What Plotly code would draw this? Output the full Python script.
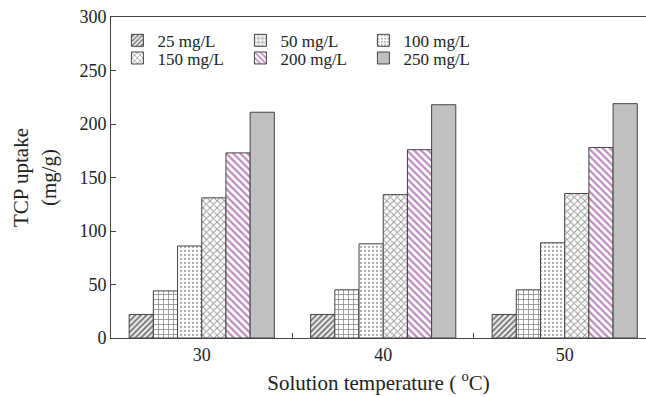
import plotly.graph_objects as go

temps = ["30", "40", "50"]
series_names = ["25 mg/L", "50 mg/L", "100 mg/L", "150 mg/L", "200 mg/L", "250 mg/L"]
v25 = [22, 22, 22]
v50 = [44, 45, 45]
v100 = [86, 88, 89]
v150 = [131, 134, 135]
v200 = [173, 176, 178]
v250 = [211, 218, 219]
values = [v25, v50, v100, v150, v200, v250]

shapes = ["/", "+", ".", "x", "\\", ""]
fg = ["#000000", "#111111", "#555555", "#333333", "#7a1a7a", "#222222"]
bg = ["white", "white", "white", "white", "white", "#c0c0c0"]
sizes = [4, 5, 4, 5, 5, 8]
solid = [0.55, 0.3, 0.25, 0.35, 0.45, 0.3]
legends = ["legend", "legend", "legend", "legend2", "legend2", "legend2"]

FONT = "Times New Roman, Liberation Serif, Tinos, serif"

fig = go.Figure()
for i, name in enumerate(series_names):
    marker = dict(color=bg[i], line=dict(color="#444444", width=1))
    if shapes[i]:
        marker["pattern"] = dict(shape=shapes[i], fgcolor=fg[i], bgcolor=bg[i],
                                 size=sizes[i], solidity=solid[i], fillmode="overlay")
    fig.add_trace(go.Bar(x=temps, y=values[i], name=name, marker=marker,
                         legend=legends[i]))

leg_common = dict(orientation="h", xanchor="left", yanchor="top",
                  entrywidth=78, entrywidthmode="pixels", traceorder="normal",
                  font=dict(size=17), bgcolor="rgba(0,0,0,0)", itemwidth=30,
                  tracegroupgap=0)

fig.update_layout(
    width=646, height=397,
    margin=dict(l=111, r=0, t=17, b=59),
    plot_bgcolor="white", paper_bgcolor="white",
    barmode="group", bargap=0.2, bargroupgap=0,
    font=dict(family=FONT, size=17, color="#222222"),
    legend=dict(x=0.012, y=0.982, **leg_common),
    legend2=dict(x=0.012, y=0.927, **leg_common),
    xaxis=dict(range=[-0.5, 2.448], showline=True, linecolor="#444444", linewidth=1,
               mirror=True, ticks="inside", tickson="boundaries", ticklen=5,
               tickcolor="#444444", showgrid=False, tickfont=dict(size=18),
               title=dict(text="Solution temperature ( <sup>o</sup>C)",
                          font=dict(size=21), standoff=11)),
    yaxis=dict(range=[0, 300], dtick=50, showline=True, linecolor="#444444",
               linewidth=1, ticks="inside", ticklen=5, tickcolor="#444444",
               showgrid=False, zeroline=False, tickfont=dict(size=18),
               title=dict(text="TCP uptake<br>(mg/g)", font=dict(size=21), standoff=17)),
)

fig.write_html("out.html")
